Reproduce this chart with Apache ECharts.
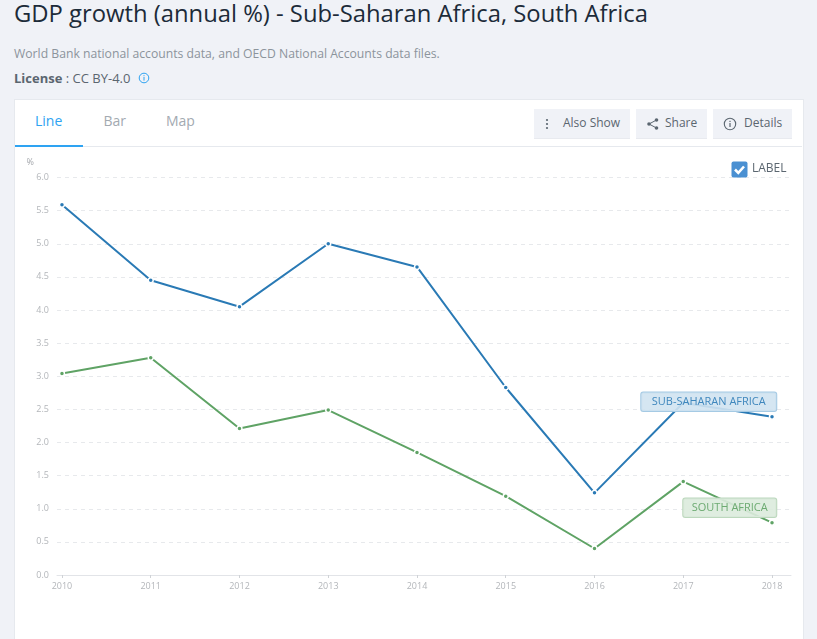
<!DOCTYPE html>
<html><head><meta charset="utf-8">
<script src="https://cdn.jsdelivr.net/npm/echarts@6/dist/echarts.min.js"></script>
<style>
html,body{margin:0;padding:0;width:817px;height:639px;overflow:hidden;background:#f0f2f7;font-family:"Open Sans",sans-serif;}
.abs{position:absolute;white-space:nowrap;}
#card{left:14px;top:99px;width:788px;height:560px;background:#fff;border:1px solid #e6e9ee;box-sizing:content-box;}
#chart{position:absolute;left:0;top:0;width:817px;height:639px;}
.btn{position:absolute;top:109px;height:30px;background:#f0f2f7;border-bottom:1px solid #e8eaef;box-sizing:border-box;font-size:12px;color:#5b6670;line-height:28px;}
.btn svg{position:absolute;top:7px;}
.btn span{position:absolute;top:0;}
</style></head><body>
<div class="abs" style="left:14px;top:-3.5px;font-size:23.8px;font-weight:500;color:#1c2b39;line-height:32px">GDP growth (annual %) - Sub-Saharan Africa, South Africa</div>
<div class="abs" style="left:14px;top:45px;font-size:12.2px;color:#8c949c;line-height:18px">World Bank national accounts data, and OECD National Accounts data files.</div>
<div class="abs" style="left:14px;top:69px;font-size:13px;color:#5b6670;line-height:18px"><b style="font-weight:700">License</b> : CC BY-4.0</div>
<svg class="abs" style="left:138px;top:72px" width="12" height="12" viewBox="0 0 12 12"><circle cx="6" cy="6" r="4.8" fill="none" stroke="#2ea3f2" stroke-width="1"/><rect x="5.5" y="5" width="1" height="3.6" fill="#2ea3f2"/><rect x="5.5" y="3.2" width="1" height="1" fill="#2ea3f2"/></svg>
<div class="abs" id="card"></div>
<div class="abs" style="left:15px;top:146px;width:787px;height:1px;background:#e6e9ee"></div>
<div class="abs" style="left:15px;top:145px;width:68px;height:2px;background:#2ea3f2"></div>
<div class="abs" style="left:35px;top:111px;font-size:14px;color:#2ea3f2;line-height:20px">Line</div>
<div class="abs" style="left:103.5px;top:111px;font-size:14px;color:#a3aab1;line-height:20px">Bar</div>
<div class="abs" style="left:166px;top:111px;font-size:14px;color:#a3aab1;line-height:20px">Map</div>
<div class="btn" style="left:534px;width:96px"><svg style="left:9px" width="8" height="16" viewBox="0 0 8 16"><circle cx="4" cy="4" r="1.1" fill="#5b6670"/><circle cx="4" cy="8" r="1.1" fill="#5b6670"/><circle cx="4" cy="12" r="1.1" fill="#5b6670"/></svg><span style="left:29px">Also Show</span></div>
<div class="btn" style="left:636px;width:71px"><svg style="left:10px" width="14" height="16" viewBox="0 0 14 16"><path d="M10.5 4 3 8 10.5 12" fill="none" stroke="#5b6670" stroke-width="1"/><circle cx="10.5" cy="4" r="1.8" fill="#5b6670"/><circle cx="3" cy="8" r="1.8" fill="#5b6670"/><circle cx="10.5" cy="12" r="1.8" fill="#5b6670"/></svg><span style="left:29px">Share</span></div>
<div class="btn" style="left:713px;width:79px"><svg style="left:10px" width="14" height="16" viewBox="0 0 14 16"><circle cx="7" cy="8" r="5.7" fill="none" stroke="#5b6670" stroke-width="1.1"/><rect x="6.4" y="7" width="1.2" height="4" fill="#5b6670"/><rect x="6.4" y="4.8" width="1.2" height="1.2" fill="#5b6670"/></svg><span style="left:31px">Details</span></div>
<div id="chart"></div>
<svg class="abs" style="left:731px;top:161px" width="17" height="17" viewBox="0 0 17 17"><rect x="0.5" y="0.5" width="16" height="16" rx="2" fill="#4a90d2"/><path d="M4 8.5 7.3 11.8 13 5.5" fill="none" stroke="#fff" stroke-width="2.6"/></svg>
<div class="abs" style="left:752px;top:159px;font-size:12px;color:#5b6670;line-height:18px">LABEL</div>
<script>
var years = [2010, 2011, 2012, 2013, 2014, 2015, 2016, 2017, 2018];
var subSaharan = [5.59, 4.45, 4.05, 5.0, 4.65, 2.83, 1.24, 2.6, 2.39];
var southAfrica = [3.04, 3.28, 2.21, 2.49, 1.85, 1.19, 0.40, 1.41, 0.79];
var yTicks = [0, 0.5, 1, 1.5, 2, 2.5, 3, 3.5, 4, 4.5, 5, 5.5, 6];

function pairs(vals, name, color, fill, border, offset, padX) {
  return vals.map(function (v, i) {
    var d = { value: [years[i], v] };
    if (i === vals.length - 1) {
      d.label = {
        show: true, formatter: name, position: 'left', distance: 0, offset: offset,
        fontFamily: '"Open Sans"', fontSize: 11, color: color,
        backgroundColor: fill, borderColor: border, borderWidth: 1, borderRadius: 2,
        padding: [4, padX, 3.5, padX], lineHeight: 11
      };
    }
    return d;
  });
}
function lineSeries(name, vals, color, fill, border, offset, padX, textColor) {
  return {
    name: name, type: 'line', data: pairs(vals, name.toUpperCase(), textColor, fill, border, offset, padX),
    symbol: 'circle', symbolSize: 5, showSymbol: true, animation: false, silent: true, z: 3,
    lineStyle: { color: color, width: 2 },
    itemStyle: { color: color, borderColor: '#fff', borderWidth: 1.5 }
  };
}
var chart = echarts.init(document.getElementById('chart'), null, { renderer: 'canvas' });
chart.setOption({
  backgroundColor: 'transparent',
  animation: false,
  grid: { left: 57, right: 26, top: 177.5, bottom: 64, containLabel: false },
  xAxis: {
    type: 'value', min: 2009.944, max: 2018.214, splitLine: { show: false },
    axisLine: { show: true, onZero: false, lineStyle: { color: '#e2e4e8', width: 1 } },
    axisTick: { show: true, length: 3, customValues: years, lineStyle: { color: '#cfd2d6' } },
    axisLabel: { customValues: years, color: '#b3b6ba', fontSize: 9, fontFamily: '"Open Sans"', margin: 7,
      formatter: function (v) { return String(Math.round(v)); } }
  },
  yAxis: {
    type: 'value', min: 0, max: 6, interval: 0.5,
    name: '%', nameLocation: 'end', nameGap: 11,
    nameTextStyle: { color: '#a5a8ad', fontSize: 9, fontFamily: '"Open Sans"', align: 'right', padding: [0, 23, 0, 0] },
    axisLine: { show: false }, axisTick: { show: false },
    splitLine: { show: true, lineStyle: { color: '#e7e9ec', type: [4, 4], width: 1 } },
    axisLabel: { customValues: yTicks, color: '#b3b6ba', fontSize: 9, fontFamily: '"Open Sans"', margin: 8,
      formatter: function (v) { return v.toFixed(1); } }
  },
  series: [
    lineSeries('Sub-Saharan Africa', subSaharan, '#2a7ab5', 'rgba(208,227,241,0.9)', '#a5cae4', [7.5, -15], 10.5, '#3f87bd'),
    lineSeries('South Africa', southAfrica, '#5fa365', 'rgba(220,235,221,0.9)', '#bcd8bd', [7.5, -15], 8.5, '#6dab72')
  ]
});
</script>
</body></html>
